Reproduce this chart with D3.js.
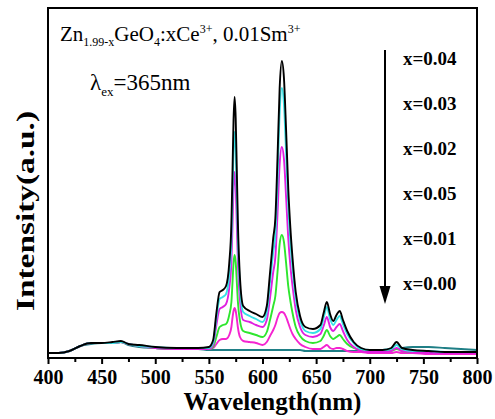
<!DOCTYPE html>
<html>
<head>
<meta charset="utf-8">
<script src="https://cdn.jsdelivr.net/npm/d3@7"></script>
<style>
  body { margin: 0; background: #fff; }
  svg { display: block; }
  text { font-family: "Liberation Serif", "Times New Roman", serif; }
</style>
</head>
<body>
<svg width="495" height="419"></svg>
<script>
// wavelength grid (nm)
var wavelength = [400, 410, 420, 430, 440, 450, 460, 468, 475, 485,
  500, 520, 540, 550, 554, 557, 560, 563, 566, 569,
  571, 572, 573, 574, 575, 576, 577, 579, 582, 588,
  594, 600, 604, 607, 610, 612, 614, 616, 618, 620,
  622, 624, 626, 628, 631, 635, 640, 647, 654, 657,
  660, 663, 666, 669, 672, 675, 679, 685, 692, 700,
  712, 720, 725, 730, 740, 755, 770, 785, 800]

var x004 = [5, 5, 7, 12, 15, 15, 16, 17, 14, 13,
  11, 10, 10, 11, 18, 45, 66, 68, 72, 95,
  135, 185, 238, 261, 240, 190, 138, 80, 52, 47,
  44, 41, 52, 85, 120, 140, 200, 270, 297, 280,
  228, 170, 130, 100, 66, 42, 31, 29, 33, 45,
  56, 44, 37, 43, 47, 38, 27, 16, 10, 8,
  8, 10, 16, 10, 8, 7, 6, 6, 6]

var x003 = [5, 5, 7, 12, 15, 15, 15, 16, 14, 12,
  11, 10, 10, 10, 15, 40, 59, 61, 64, 84,
  118, 162, 207, 226, 209, 166, 122, 71, 46, 42,
  39, 36, 46, 76, 106, 124, 178, 245, 270, 254,
  205, 153, 116, 90, 59, 38, 27, 25, 29, 40,
  51, 39, 33, 38, 42, 34, 24, 15, 9, 8,
  8, 9, 13, 9, 7, 7, 6, 6, 6]

var x002 = [5, 5, 7, 12, 15, 15, 15, 16, 14, 12,
  10, 9, 9, 9, 13, 33, 49, 51, 54, 70,
  96, 131, 170, 186, 172, 135, 98, 58, 38, 36,
  33, 31, 38, 60, 86, 101, 144, 194, 211, 199,
  161, 120, 92, 72, 48, 31, 23, 21, 24, 32,
  41, 31, 27, 31, 34, 27, 18, 11, 7, 6,
  6, 7, 10, 7, 6, 5, 5, 5, 5]

var x005 = [5, 5, 7, 12, 15, 15, 15, 16, 14, 12,
  10, 9, 9, 9, 11, 21, 31, 33, 34, 43,
  56, 75, 95, 103, 96, 77, 57, 37, 27, 25,
  23, 21, 26, 38, 52, 62, 86, 114, 123, 116,
  95, 72, 57, 45, 31, 22, 17, 15, 17, 22,
  28, 22, 19, 21, 23, 19, 14, 10, 8, 7,
  7, 7, 9, 7, 6, 6, 6, 6, 6]

var x001 = [5, 5, 7, 12, 15, 15, 15, 16, 14, 12,
  10, 9, 9, 9, 10, 14, 18, 19, 19, 23,
  31, 40, 47, 50, 47, 40, 31, 21, 17, 16,
  15, 13, 16, 22, 28, 33, 40, 45, 46, 45,
  41, 35, 29, 24, 19, 14, 11, 9, 9, 11,
  13, 10, 9, 10, 10, 9, 7, 6, 6, 5,
  5, 5, 6, 5, 5, 4, 4, 4, 4]

var x000 = [5, 5, 7, 12, 14, 15, 15, 16, 13, 11,
  10, 9, 9, 8, 8, 8, 8, 8, 8, 8,
  8, 8, 8, 8, 8, 8, 8, 8, 8, 8,
  8, 8, 8, 8, 8, 8, 8, 8, 8, 8,
  8, 8, 8, 8, 8, 8, 7, 7, 7, 7,
  7, 7, 7, 7, 7, 7, 7, 7, 7, 8,
  8, 9, 9, 10, 11, 11, 10, 9, 8]

var xTicks = [400, 450, 500, 550, 600, 650, 700, 750, 800]
var legendLabels = ['x=0.04', 'x=0.03', 'x=0.02', 'x=0.05', 'x=0.01', 'x=0.00']

// drawing order: bottom first, black on top
var series = [
  {values: x000, color: '#1f7f86'},
  {values: x001, color: '#f523d0'},
  {values: x005, color: '#2ee62e'},
  {values: x002, color: '#e01fe0'},
  {values: x003, color: '#36e2e6'},
  {values: x004, color: '#000000'}
]

var svg = d3.select('svg')
var plotL = 48, plotR = 477, plotT = 8, plotB = 358

var mapX = d3.scaleLinear().domain([400, 800]).range([plotL, plotR])
var mapY = d3.scaleLinear().domain([0, 350]).range([plotB, plotT])

var line = d3.line()
  .x(function(d){ return mapX(d[0]) })
  .y(function(d){ return mapY(d[1]) })
  .curve(d3.curveMonotoneX)

svg.selectAll('path.spec')
  .data(series)
  .enter()
  .append('path')
  .attr('class', 'spec')
  .attr('d', function(s){
    return line(wavelength.map(function(w, i){ return [w, s.values[i]] }))
  })
  .attr('fill', 'none')
  .attr('stroke', function(s){ return s.color })
  .attr('stroke-width', 1.9)

// frame
svg.append('rect')
  .attr('x', plotL).attr('y', plotT)
  .attr('width', plotR - plotL).attr('height', plotB - plotT)
  .attr('fill', 'none')
  .attr('stroke', '#000')
  .attr('stroke-width', 2)

// minor ticks
svg.append('g')
  .attr('transform', `translate(0, ${plotB})`)
  .call(d3.axisBottom(mapX).tickValues(d3.range(425, 800, 50)).tickSize(4).tickFormat(''))
  .call(function(g){ g.select('.domain').remove() })
  .selectAll('line').attr('stroke-width', 2)

// major ticks
var ax = svg.append('g')
  .attr('transform', `translate(0, ${plotB})`)
  .call(d3.axisBottom(mapX).tickValues(xTicks).tickSize(6).tickPadding(6).tickFormat(d3.format('d')))
ax.select('.domain').remove()
ax.selectAll('line').attr('stroke-width', 2)
ax.selectAll('text')
  .attr('font-family', '"Liberation Serif", serif')
  .attr('font-size', 20)
  .attr('font-weight', 'bold')
  .attr('fill', '#000')

svg.append('text')
  .attr('x', (plotL + plotR) / 2 + 10)
  .attr('y', 410)
  .attr('text-anchor', 'middle')
  .attr('font-size', 25)
  .attr('font-weight', 'bold')
  .text('Wavelength(nm)')

svg.append('text')
  .attr('transform', 'translate(34, 211) rotate(-90)')
  .attr('text-anchor', 'middle')
  .attr('font-size', 26)
  .attr('font-weight', 'bold')
  .attr('textLength', 200)
  .attr('lengthAdjust', 'spacingAndGlyphs')
  .text('Intensity(a.u.)')

// composition title
var title = svg.append('text')
  .attr('x', 60).attr('y', 41)
  .attr('font-size', 21)
title.append('tspan').text('Zn')
title.append('tspan').attr('font-size', 12).attr('dy', 5).text('1.99-x')
title.append('tspan').attr('dy', -5).text('GeO')
title.append('tspan').attr('font-size', 12).attr('dy', 5).text('4')
title.append('tspan').attr('dy', -5).text(':xCe')
title.append('tspan').attr('font-size', 12).attr('dy', -8).text('3+')
title.append('tspan').attr('dy', 8).text(', 0.01Sm')
title.append('tspan').attr('font-size', 12).attr('dy', -8).text('3+')

var lam = svg.append('text')
  .attr('x', 90).attr('y', 90)
  .attr('font-size', 23)
lam.append('tspan').text('λ')
lam.append('tspan').attr('font-size', 13).attr('dy', 6).text('ex')
lam.append('tspan').attr('dy', -6).text('=365nm')

// legend labels with arrow
svg.selectAll('text.lab')
  .data(legendLabels)
  .enter()
  .append('text')
  .attr('class', 'lab')
  .attr('x', 403)
  .attr('y', function(d, i){ return 65 + i * 45 })
  .attr('font-size', 19)
  .attr('font-weight', 'bold')
  .text(function(d){ return d })

svg.append('line')
  .attr('x1', 385).attr('x2', 385)
  .attr('y1', 50).attr('y2', 290)
  .attr('stroke', '#000')
  .attr('stroke-width', 2)

svg.append('path')
  .attr('d', 'M379.5,286 L390.5,286 L385,304 Z')
  .attr('fill', '#000')
</script>
</body>
</html>
